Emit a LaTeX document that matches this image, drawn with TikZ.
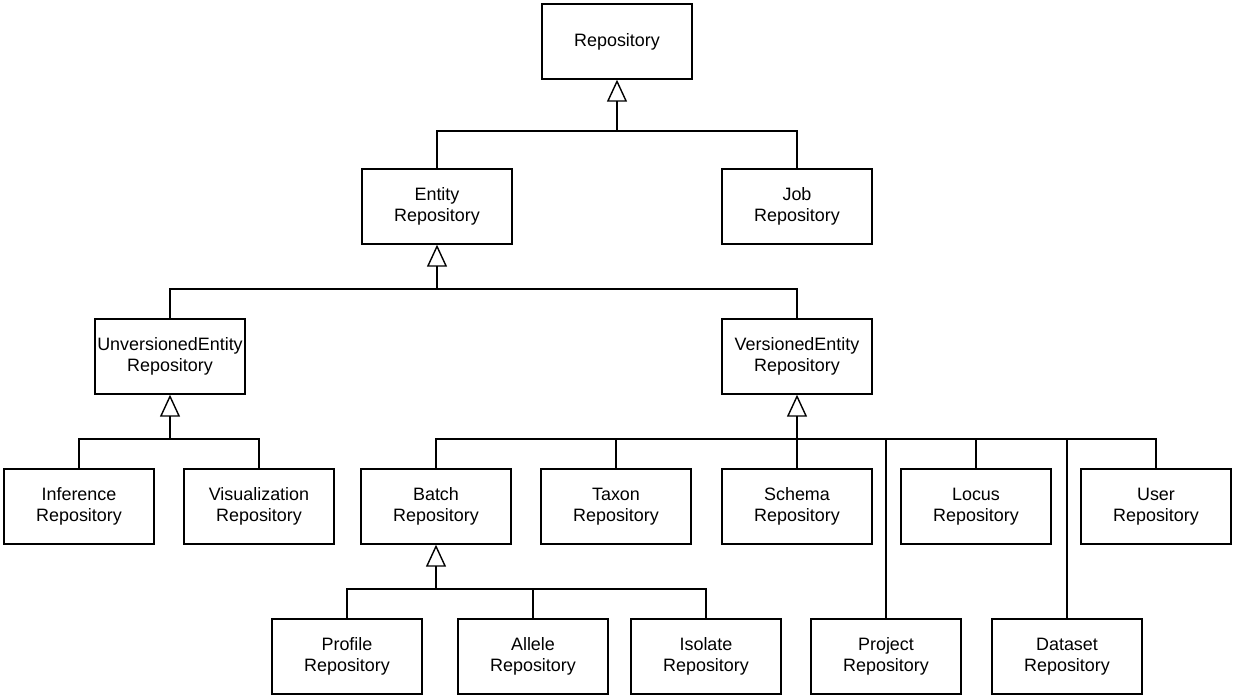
\documentclass[tikz,border=0pt]{standalone}
\usepackage{fontspec}
\setmainfont{Liberation Sans}
\usetikzlibrary{arrows.meta}

\tikzset{
    repobox/.style={draw, line width=0.8pt, minimum width=3cm, minimum height=1.5cm,
        align=center, inner sep=0pt, font=\fontsize{10.2}{12}\selectfont},
    inherit/.style={line width=0.8pt, -{Triangle[open, length=0.44cm, width=0.4cm]}},
    link/.style={line width=0.8pt}
}

\begin{document}
\begin{tikzpicture}

    \useasboundingbox (0, 0) rectangle (24.7, 13.96);

    %% Repository class hierarchy

    % Top
    \node[repobox] (repo) at (12.34, 13.13) {Repository};

    % Second row
    \node[repobox] (entity) at (8.74, 9.83) {Entity\\Repository};
    \node[repobox] (job) at (15.94, 9.83) {Job\\Repository};

    % Third row
    \node[repobox] (unversioned) at (3.40, 6.83) {UnversionedEntity\\Repository};
    \node[repobox] (versioned) at (15.94, 6.83) {VersionedEntity\\Repository};

    % Fourth row
    \node[repobox] (inference) at (1.58, 3.83) {Inference\\Repository};
    \node[repobox] (visualization) at (5.18, 3.83) {Visualization\\Repository};
    \node[repobox] (batch) at (8.72, 3.83) {Batch\\Repository};
    \node[repobox] (taxon) at (12.32, 3.83) {Taxon\\Repository};
    \node[repobox] (schema) at (15.94, 3.83) {Schema\\Repository};
    \node[repobox] (locus) at (19.52, 3.83) {Locus\\Repository};
    \node[repobox] (user) at (23.12, 3.83) {User\\Repository};

    % Bottom row
    \node[repobox] (profile) at (6.94, 0.83) {Profile\\Repository};
    \node[repobox] (allele) at (10.66, 0.83) {Allele\\Repository};
    \node[repobox] (isolate) at (14.12, 0.83) {Isolate\\Repository};
    \node[repobox] (project) at (17.72, 0.83) {Project\\Repository};
    \node[repobox] (dataset) at (21.34, 0.83) {Dataset\\Repository};

    % Junctions
    \coordinate (jrepo) at (12.34, 11.34);
    \coordinate (jentity) at (8.74, 8.18);
    \coordinate (junversioned) at (3.40, 5.18);
    \coordinate (jversioned) at (15.94, 5.18);
    \coordinate (jbatch) at (8.72, 2.18);

    % Repository
    \draw[inherit] (jrepo) -- (repo.south);
    \draw[link] (entity.north) |- (jrepo) -| (job.north);

    % Entity
    \draw[inherit] (jentity) -- (entity.south);
    \draw[link] (unversioned.north) |- (jentity) -| (versioned.north);

    % UnversionedEntity
    \draw[inherit] (junversioned) -- (unversioned.south);
    \draw[link] (inference.north) |- (junversioned) -| (visualization.north);

    % VersionedEntity
    \draw[inherit] (jversioned) -- (versioned.south);
    \draw[link] (batch.north) |- (jversioned) -| (user.north);
    \draw[link] (taxon.north) -- (taxon.north |- jversioned);
    \draw[link] (schema.north) -- (jversioned);
    \draw[link] (locus.north) -- (locus.north |- jversioned);
    \draw[link] (project.north) -- (project.north |- jversioned);
    \draw[link] (dataset.north) -- (dataset.north |- jversioned);

    % Batch
    \draw[inherit] (jbatch) -- (batch.south);
    \draw[link] (profile.north) |- (jbatch) -| (isolate.north);
    \draw[link] (allele.north) -- (allele.north |- jbatch);

\end{tikzpicture}
\end{document}
